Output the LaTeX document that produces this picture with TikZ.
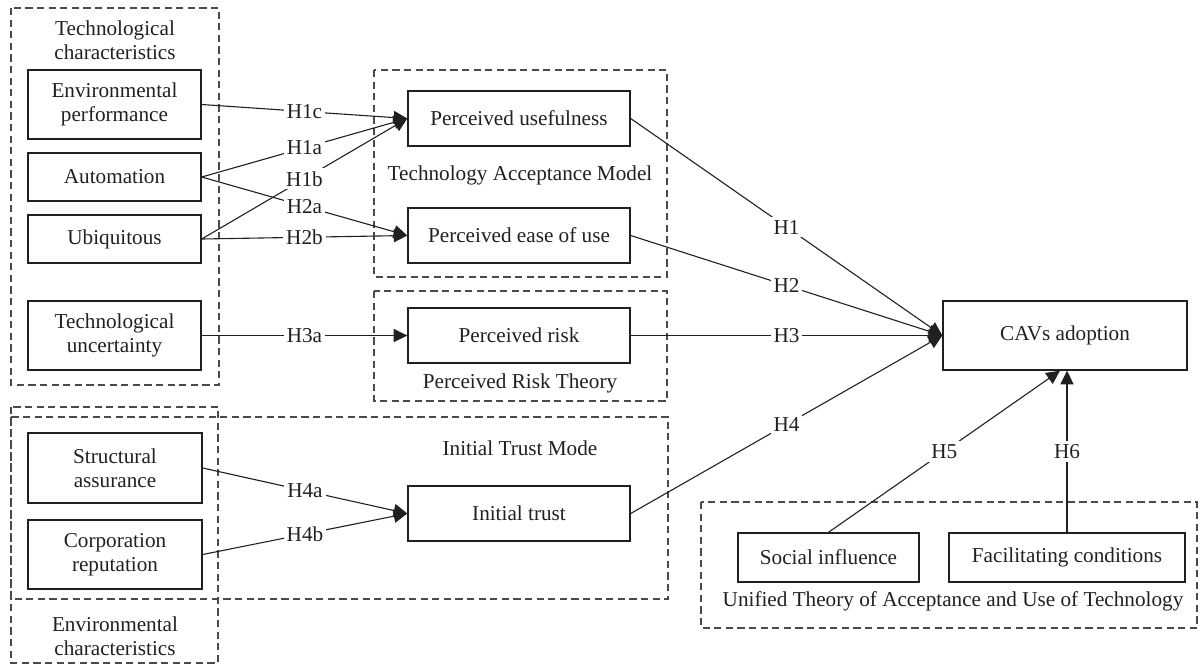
\documentclass[tikz,border=0pt]{standalone}
\usepackage{fontspec}
\setmainfont{Liberation Serif}
\usetikzlibrary{arrows.meta}
\definecolor{ink}{HTML}{231F20}
\definecolor{frame}{HTML}{4A4A4A}
\begin{document}
\begin{tikzpicture}[x=0.5pt,y=-0.5pt,
  every node/.style={font=\fontsize{10.6}{12.2}\selectfont, text=ink},
  box/.style={draw=ink, line width=0.7pt, align=center, inner sep=0pt},
  grp/.style={draw=frame, line width=0.6pt, dash pattern=on 3.6pt off 2.2pt},
  conn/.style={draw=ink, line width=0.55pt},
  arr/.style={conn, -{Triangle[length=6.8pt,width=6.6pt]}},
  hl/.style={fill=white, inner sep=1.5pt},
  grpcap/.style={align=center, inner sep=0pt}]
\useasboundingbox (0,0) rectangle (1200,665);
% group frames
\draw[grp] (11,8) rectangle (219,385);
\draw[grp] (374,70) rectangle (667,277);
\draw[grp] (374,291) rectangle (667,401);
\draw[grp] (11,407) rectangle (218,663);
\draw[grp] (11,417) rectangle (668,599);
\draw[grp] (701,502) rectangle (1197,628);
% group captions
\node[grpcap] (ttc) at (115,40) {Technological\\characteristics};
\node[grpcap] (ttam) at (520,175) {Technology Acceptance Model};
\node[grpcap] (tprt) at (520,383) {Perceived Risk Theory};
\node[grpcap] (tenv) at (115,636) {Environmental\\characteristics};
\node[grpcap] (titm) at (520,448) {Initial Trust Mode};
\node[grpcap] (tutaut) at (953,601) {Unified Theory of Acceptance and Use of Technology};
% boxes
\node[box, minimum width=86.5pt, minimum height=34.5pt] (env) at (114.5,104.5) {Environmental\\performance};
\node[box, minimum width=86.5pt, minimum height=24pt] (auto) at (114.5,177) {Automation};
\node[box, minimum width=86.5pt, minimum height=24pt] (ubiq) at (114.5,239) {Ubiquitous};
\node[box, minimum width=86.5pt, minimum height=34.5pt] (tunc) at (114.5,335.5) {Technological\\uncertainty};
\node[box, minimum width=111pt, minimum height=27.5pt] (pu) at (519,118.5) {Perceived usefulness};
\node[box, minimum width=111pt, minimum height=27.5pt] (peou) at (519,235.5) {Perceived ease of use};
\node[box, minimum width=111pt, minimum height=27.5pt] (pr) at (519,335.5) {Perceived risk};
\node[box, minimum width=111pt, minimum height=27.5pt] (it) at (519,513.5) {Initial trust};
\node[box, minimum width=87pt, minimum height=35pt] (sa) at (115,468) {Structural\\assurance};
\node[box, minimum width=87pt, minimum height=34.5pt] (cr) at (115,554.5) {Corporation\\reputation};
\node[box, minimum width=122pt, minimum height=34.5pt] (cav) at (1065,335.5) {CAVs adoption};
\node[box, minimum width=90.5pt, minimum height=24.5pt] (si) at (828.5,557.5) {Social influence};
\node[box, minimum width=118pt, minimum height=24.5pt] (fc) at (1067,557.5) {Facilitating conditions};
% connectors
\draw[arr] (env.east) -- node[hl] (l1c) {H1c} (pu.west);
\draw[arr] (auto.east) -- node[hl] (l1a) {H1a} (pu.west);
\draw[arr] (ubiq.east) -- node[hl] (l1b) {H1b} (pu.west);
\draw[arr] (auto.east) -- node[hl] (l2a) {H2a} (peou.west);
\draw[arr] (ubiq.east) -- node[hl] (l2b) {H2b} (peou.west);
\draw[arr] (tunc.east) -- node[hl] (l3a) {H3a} (pr.west);
\draw[arr] (sa.east) -- node[hl] (l4a) {H4a} (it.west);
\draw[arr] (cr.east) -- node[hl] (l4b) {H4b} (it.west);
\draw[arr] (pu.east) -- node[hl] (l1) {H1} (cav.west);
\draw[arr] (peou.east) -- node[hl] (l2) {H2} (cav.west);
\draw[arr] (pr.east) -- node[hl] (l3) {H3} (cav.west);
\draw[arr] (it.east) -- node[hl] (l4) {H4} (cav.west);
\draw[arr] (si.north) -- node[hl] (l5) {H5} ([xshift=-2.5pt]cav.south);
\draw[arr] (fc.north) -- node[hl] (l6) {H6} (fc.north |- cav.south);
\end{tikzpicture}
\end{document}
